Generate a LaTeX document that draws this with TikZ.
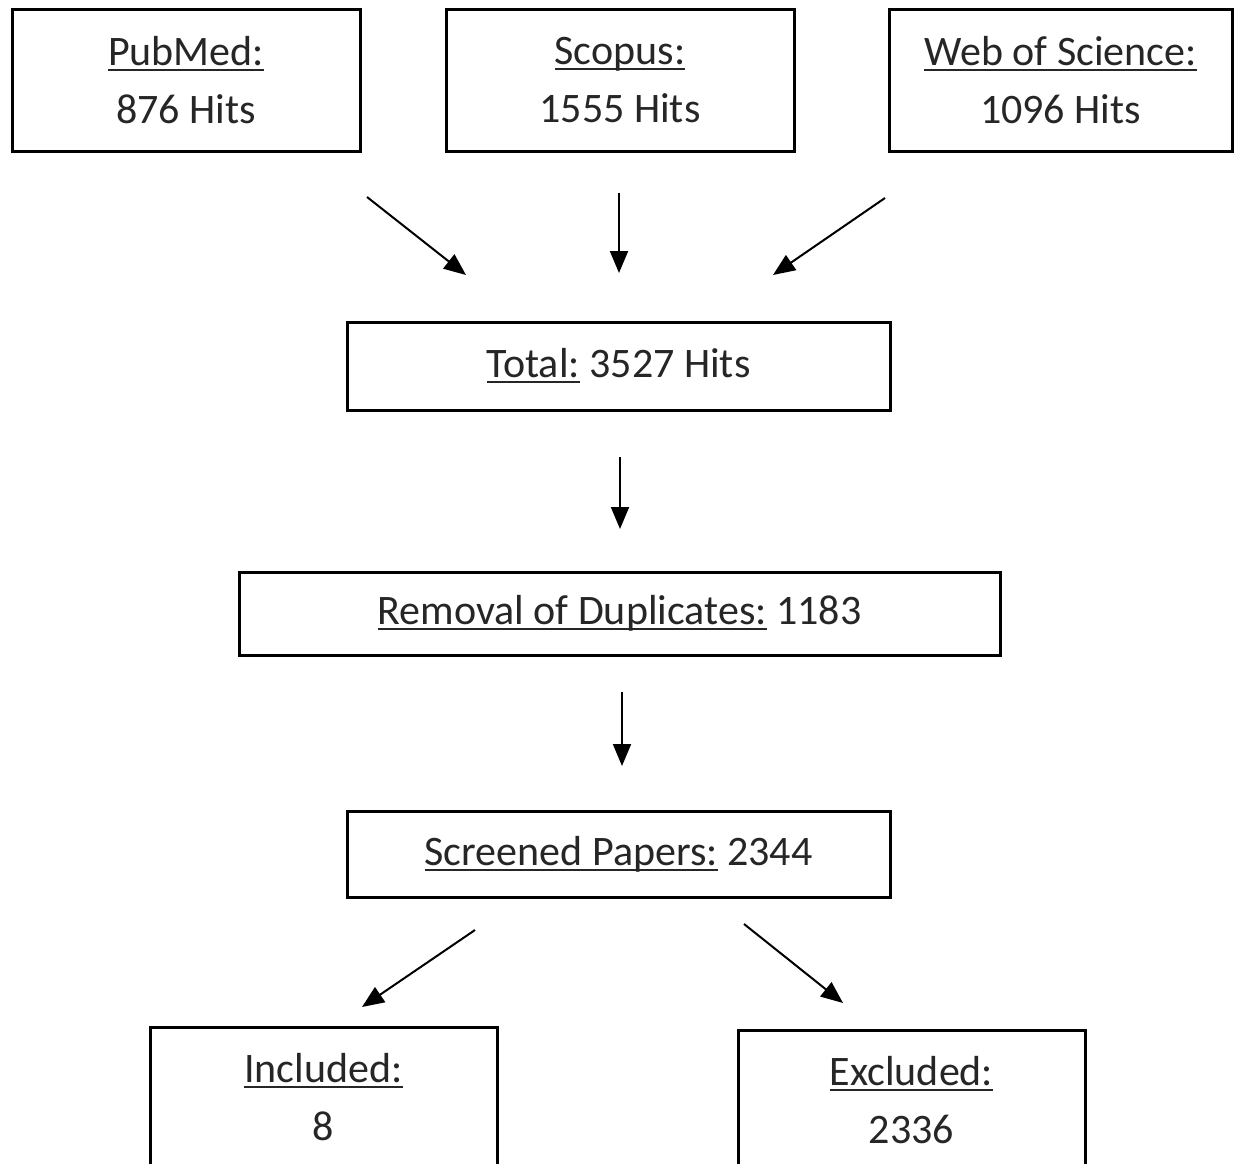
\documentclass[tikz,border=0pt]{standalone}
\usepackage{fontspec}
\setmainfont{Carlito}
\usetikzlibrary{arrows.meta}
\newsavebox\ulbox
\newcommand\myul[1]{\sbox\ulbox{#1}\rlap{\rule[-0.13em]{\wd\ulbox}{0.05em}}\usebox\ulbox}
\begin{document}
\begin{tikzpicture}[x=1pt,y=-1pt,
  box/.style={draw=black,line width=3pt,fill=white,inner sep=0pt,align=center,
    font=\fontsize{42}{58}\selectfont,text=black!85},
  arr/.style={line width=2pt,-{Triangle[length=22pt,width=18pt]}}]
\fill[white] (0,0) rectangle (1234,1164);
\clip (0,0) rectangle (1234,1164);
% top sources
\node[box,minimum width=348pt,minimum height=141pt] (pubmed) at (186,80.5) {\myul{PubMed:}\\876 Hits};
\node[box,minimum width=348pt,minimum height=141pt] (scopus) at (620,80.5) {\myul{Scopus:}\\1555 Hits};
\node[box,minimum width=343pt,minimum height=141pt] (wos) at (1060.5,80.5) {\myul{Web of Science:}\\1096 Hits};
% middle
\node[box,minimum width=543pt,minimum height=88pt] (total) at (618.5,366) {\myul{Total:} 3527 Hits};
\node[box,minimum width=761pt,minimum height=83pt] (removal) at (619.5,613.5) {\myul{Removal of Duplicates:} 1183};
\node[box,minimum width=543pt,minimum height=86pt] (screened) at (618.5,854) {\myul{Screened Papers:} 2344};
% bottom
\node[box,minimum width=347pt,minimum height=141pt] (included) at (323.5,1097.5) {\myul{Included:}\\8};
\node[box,minimum width=347pt,minimum height=141pt] (excluded) at (911.5,1100.5) {\myul{Excluded:}\\2336};
% arrow coordinates
\coordinate (a1s) at (367,197); \coordinate (a1e) at (466,275);
\coordinate (a2s) at (619,193); \coordinate (a2e) at (619,273);
\coordinate (a3s) at (885,198); \coordinate (a3e) at (773,275);
\coordinate (a4s) at (620,457); \coordinate (a4e) at (620,529);
\coordinate (a5s) at (622,692); \coordinate (a5e) at (622,766);
\coordinate (a6s) at (475,930); \coordinate (a6e) at (362,1007);
\coordinate (a7s) at (744,924); \coordinate (a7e) at (843,1003);
\draw[arr] (a1s) -- (a1e);
\draw[arr] (a2s) -- (a2e);
\draw[arr] (a3s) -- (a3e);
\draw[arr] (a4s) -- (a4e);
\draw[arr] (a5s) -- (a5e);
\draw[arr] (a6s) -- (a6e);
\draw[arr] (a7s) -- (a7e);
\end{tikzpicture}
\end{document}
